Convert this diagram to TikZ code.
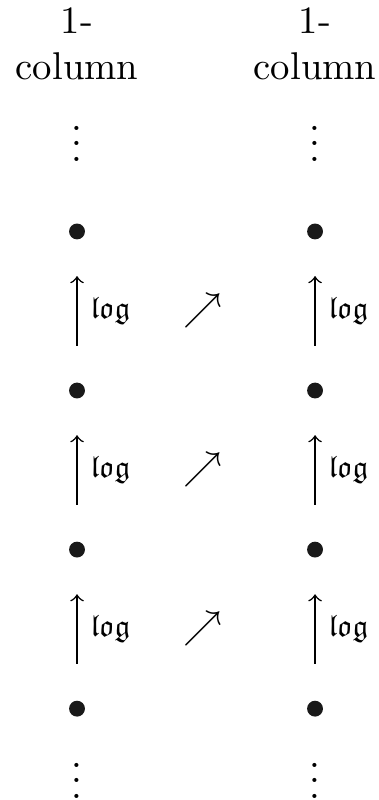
\documentclass[tikz,border=0pt]{standalone}
\usepackage{amssymb}
\usetikzlibrary{positioning}

\begin{document}
\begin{tikzpicture}[node distance=41.1pt, auto]
    % Define styles
    \tikzstyle{dot} = [circle, fill=black!90, inner sep=0pt, minimum size=4.1pt]
    \tikzstyle{header} = [align=center, inner sep=0pt]
    \tikzstyle{arrow} = [line width=0.4pt, ->, >=to, shorten >=9.3pt, shorten <=9.3pt]
    \tikzstyle{lbl} = [right, font=\footnotesize]
    \useasboundingbox (0,0) rectangle (97.7pt,-206.7pt);

    % Headers
    \node [header] (hl) at (19.9pt,-11.3pt) {1-\\column};
    \node [header] (hr) at (81.4pt,-11.3pt) {1-\\column};

    % Left column
    \node [anchor=base] (vl0) at (19.9pt,-41.6pt) {$\vdots$};
    \node [dot] (l1) at (19.9pt,-59.8pt) {};
    \node [dot, below of=l1] (l2) {};
    \node [dot, below of=l2] (l3) {};
    \node [dot, below of=l3] (l4) {};
    \node [anchor=base] (vl5) at (19.9pt,-206.3pt) {$\vdots$};

    % Right column
    \node [anchor=base] (vr0) at (81.4pt,-41.6pt) {$\vdots$};
    \node [dot, right of=l1, xshift=20.4pt] (r1) {};
    \node [dot, below of=r1] (r2) {};
    \node [dot, below of=r2] (r3) {};
    \node [dot, below of=r3] (r4) {};
    \node [anchor=base] (vr5) at (81.4pt,-206.3pt) {$\vdots$};

    % Diagonal marks between the columns
    \node (ne1) at (52.3pt,-80.3pt) {$\nearrow$};
    \node [below of=ne1] (ne2) {$\nearrow$};
    \node [below of=ne2] (ne3) {$\nearrow$};

    % Vertical arrows
    \draw [arrow] (l2) -- node[lbl] {$\mathfrak{log}$} (l1);
    \draw [arrow] (l3) -- node[lbl] {$\mathfrak{log}$} (l2);
    \draw [arrow] (l4) -- node[lbl] {$\mathfrak{log}$} (l3);
    \draw [arrow] (r2) -- node[lbl] {$\mathfrak{log}$} (r1);
    \draw [arrow] (r3) -- node[lbl] {$\mathfrak{log}$} (r2);
    \draw [arrow] (r4) -- node[lbl] {$\mathfrak{log}$} (r3);

\end{tikzpicture}
\end{document}
